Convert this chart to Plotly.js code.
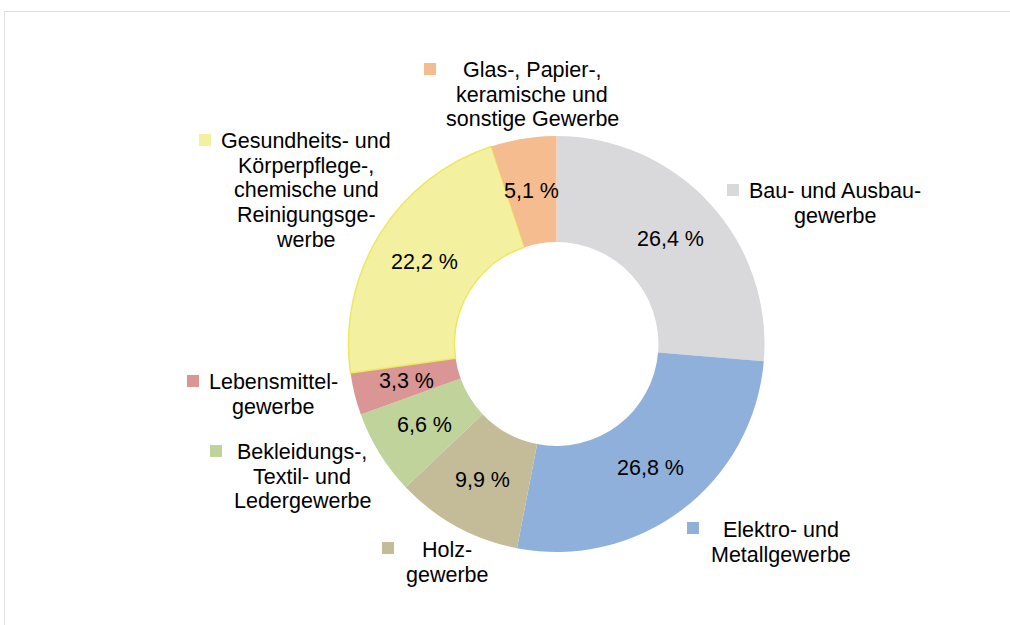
<!DOCTYPE html>
<html>
<head>
<meta charset="utf-8">
<script src="https://cdn.plot.ly/plotly-3.0.1.min.js"></script>
<style>
  html, body { margin: 0; padding: 0; background: #ffffff; }
  #wrap { position: relative; width: 1010px; height: 625px; overflow: hidden; }
  #frame { position: absolute; left: 4px; top: 11px; width: 1020px; height: 640px;
           border-top: 1px solid #dedede; border-left: 1px solid #dedede; pointer-events: none; }
  #chart { position: absolute; left: 0; top: 0; width: 1010px; height: 625px; }
</style>
</head>
<body>
<div id="wrap">
  <div id="chart"></div>
  <div id="frame"></div>
</div>
<script>
// Data (clockwise from 12 o'clock)
var categories = [
  "Bau- und Ausbau-<br>gewerbe",
  "Elektro- und<br>Metallgewerbe",
  "Holz-<br>gewerbe",
  "Bekleidungs-,<br>Textil- und<br>Ledergewerbe",
  "Lebensmittel-<br>gewerbe",
  "Gesundheits- und<br>Körperpflege-,<br>chemische und<br>Reinigungsge-<br>werbe",
  "Glas-, Papier-,<br>keramische und<br>sonstige Gewerbe"
];
var shares = [26.4, 26.8, 9.9, 6.6, 3.3, 22.2, 5.1];
var colors = ["#d9d9db", "#8eb0db", "#c4bc98", "#c0d39b", "#d99694", "#f3f19f", "#f5bd8f"];
var outlineColors = ["rgba(0,0,0,0)", "rgba(0,0,0,0)", "rgba(0,0,0,0)", "rgba(0,0,0,0)", "rgba(0,0,0,0)", "#ede85f", "rgba(0,0,0,0)"];
var outlineWidths = [0, 0, 0, 0, 0, 1.5, 0];

// External label block layout (pixel anchors: center x, first line y, marker x, marker y)
var labelPos = [
  {x: 835, y: 191, sx: 733, sy: 190},
  {x: 781, y: 530, sx: 693, sy: 528},
  {x: 447, y: 550, sx: 388, sy: 548},
  {x: 302, y: 452, sx: 216, sy: 451},
  {x: 273, y: 382, sx: 193, sy: 381},
  {x: 306, y: 141, sx: 205, sy: 140},
  {x: 532, y: 70,  sx: 430, sy: 69}
];

var W = 1010, H = 625;
var FONT = 'Liberation Sans, Arial, sans-serif';
var FS = 21.5, LINE = 24.7;
function fmt(v) { return v.toFixed(1).replace('.', ',') + ' %'; }

// Pie geometry (pixels)
var cx = 556.5, cy = 344, R = 208, HOLE = 0.49;

var trace = {
  type: 'pie',
  values: shares,
  labels: categories,
  textinfo: 'none',
  sort: false,
  direction: 'clockwise',
  rotation: 0,
  hole: HOLE,
  marker: {colors: colors, line: {color: outlineColors, width: outlineWidths}},
  domain: {x: [(cx - R) / W, (cx + R) / W], y: [(H - cy - R) / H, (H - cy + R) / H]},
  showlegend: false,
  hoverinfo: 'none'
};

var annotations = [];
var shapes = [];
var S = 12;

// Percentage labels at mid-radius on each slice's bisector (derived from the values)
var total = shares.reduce(function (a, b) { return a + b; }, 0);
var cum = 0;
var rMid = R * (1 + HOLE) / 2;
for (var k = 0; k < shares.length; k++) {
  var mid = (cum + shares[k] / 2) / total * 2 * Math.PI;
  cum += shares[k];
  var px = cx + rMid * Math.sin(mid);
  var py = cy - rMid * Math.cos(mid);
  annotations.push({
    xref: 'paper', yref: 'paper', x: px / W, y: 1 - py / H,
    xanchor: 'center', yanchor: 'middle', showarrow: false,
    text: fmt(shares[k]),
    font: {family: FONT, size: FS, color: '#000000'}
  });
}

for (var i = 0; i < categories.length; i++) {
  var p = labelPos[i];
  var lines = categories[i].split('<br>');
  for (var j = 0; j < lines.length; j++) {
    annotations.push({
      xref: 'paper', yref: 'paper',
      x: p.x / W, y: 1 - (p.y + j * LINE) / H,
      xanchor: 'center', yanchor: 'middle',
      text: lines[j], showarrow: false, align: 'center',
      font: {family: FONT, size: FS, color: '#000000'}
    });
  }
  shapes.push({
    type: 'rect', xref: 'paper', yref: 'paper',
    x0: (p.sx - S / 2) / W, x1: (p.sx + S / 2) / W,
    y0: 1 - (p.sy + S / 2) / H, y1: 1 - (p.sy - S / 2) / H,
    fillcolor: colors[i], line: {width: 0}
  });
}

var layout = {
  width: W, height: H,
  margin: {l: 0, r: 0, t: 0, b: 0},
  paper_bgcolor: '#ffffff',
  plot_bgcolor: '#ffffff',
  annotations: annotations,
  shapes: shapes,
  font: {family: FONT}
};

Plotly.newPlot('chart', [trace], layout, {displayModeBar: false, staticPlot: true});
</script>
</body>
</html>
